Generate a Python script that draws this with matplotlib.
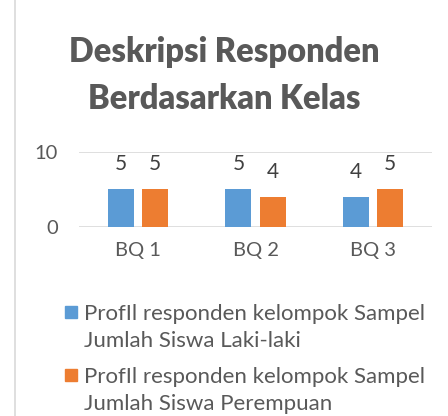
import matplotlib.pyplot as plt
from matplotlib.lines import Line2D
from matplotlib.patches import Rectangle
import numpy as np

plt.rcParams['font.family'] = ['Lato', 'DejaVu Sans']

kategori = ["BQ 1", "BQ 2", "BQ 3"]
laki_laki = [5, 5, 4]
perempuan = [5, 4, 5]
nama_seri = ["ProfIl responden kelompok Sampel\nJumlah Siswa Laki-laki",
             "ProfIl responden kelompok Sampel\nJumlah Siswa Perempuan"]
warna = ["#5b9bd5", "#ed7d31"]
abu = "#595959"

fig = plt.figure(figsize=(4.48, 4.16), dpi=100)
W, H = 448, 416

# area plot dalam piksel
x0, x1 = 79, 432
y0, y1 = 227, 152
ax = fig.add_axes([x0 / W, 1 - y0 / H, (x1 - x0) / W, (y0 - y1) / H])

x = np.arange(len(kategori))
lebar = 0.22
geser = 0.145
b1 = ax.bar(x - geser, laki_laki, lebar, color=warna[0], zorder=3)
b2 = ax.bar(x + geser, perempuan, lebar, color=warna[1], zorder=3)
for bars in (b1, b2):
    for b in bars:
        ax.text(b.get_x() + b.get_width() / 2, b.get_height() + 2.0,
                str(int(b.get_height())), ha="center", va="bottom",
                fontsize=15, color="#404040")

ax.set_xlim(-0.5, 2.5)
ax.set_ylim(0, 10)
ax.set_yticks([0, 10])
ax.set_xticks(x)
ax.set_xticklabels(kategori)
ax.tick_params(length=0, labelsize=14.5, colors=abu, pad=11)
ax.tick_params(axis="y", pad=15)
for s in ax.spines.values():
    s.set_visible(False)
ax.grid(axis="y", color="#d9d9d9", linewidth=1.2, zorder=0)
ax.set_facecolor("none")

# judul
fig.text(224 / W, 1 - 52 / H, "Deskripsi Responden", ha="center", va="center",
         fontsize=23.5, fontweight="heavy", color=abu)
fig.text(224 / W, 1 - 99 / H, "Berdasarkan Kelas", ha="center", va="center",
         fontsize=23.5, fontweight="heavy", color=abu)

# legenda
for i, (nama, w) in enumerate(zip(nama_seri, warna)):
    ymid = 312 + i * 63
    fig.add_artist(Rectangle((65 / W, 1 - (ymid + 6) / H), 12 / W, 12 / H,
                             transform=fig.transFigure, color=w))
    fig.text(84 / W, 1 - (ymid + 15.5) / H, nama, ha="left", va="center",
             fontsize=16, color=abu, linespacing=1.45)

# garis tepi kiri
fig.add_artist(Line2D([15 / W, 15 / W], [0, 1], color="#d9d9d9", linewidth=1.2))

fig.savefig("out.png", dpi=100)
